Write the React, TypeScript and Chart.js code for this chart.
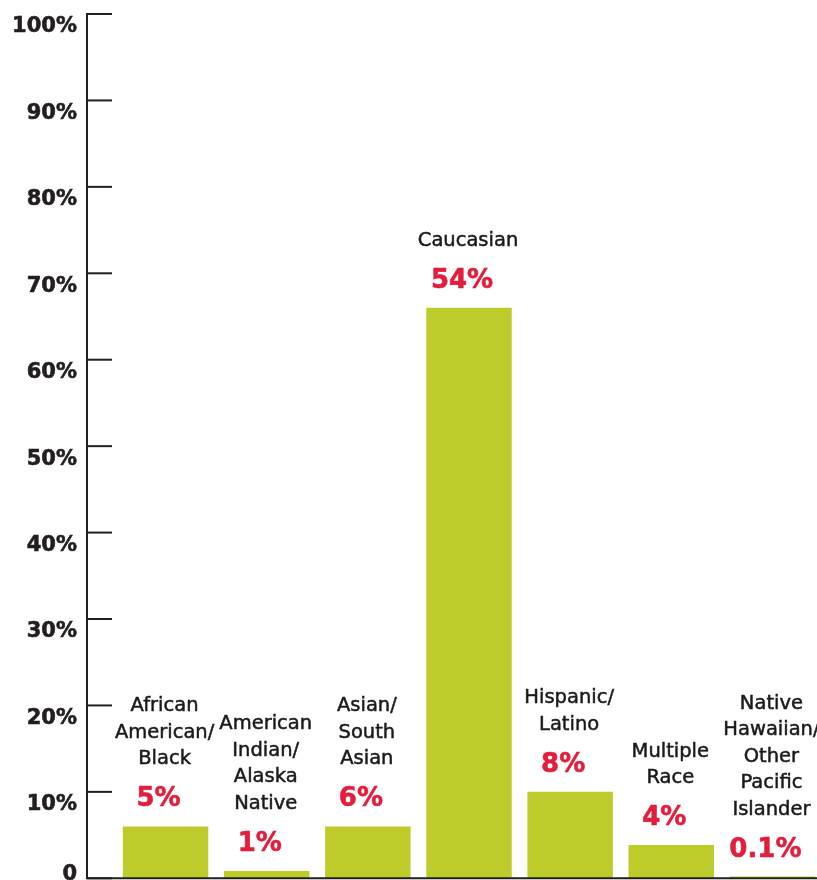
import { useEffect, useRef } from "react";
import { Chart, registerables } from "chart.js";

Chart.register(...registerables);

const categories: string[][] = [
  ["African", "American/", "Black"],
  ["American", "Indian/", "Alaska", "Native"],
  ["Asian/", "South", "Asian"],
  ["Caucasian"],
  ["Hispanic/", "Latino"],
  ["Multiple", "Race"],
  ["Native", "Hawaiian/", "Other", "Pacific", "Islander"],
];
const barValues = [6, 0.85, 6, 66, 10, 3.85, 0.2];
const valueLabels = ["5%", "1%", "6%", "54%", "8%", "4%", "0.1%"];
const yTickValues = [0, 10, 20, 30, 40, 50, 60, 70, 80, 90, 100];
const yTickLabels = ["0", "10%", "20%", "30%", "40%", "50%", "60%", "70%", "80%", "90%", "100%"];

const BAR_COLOR = "#BDCC2A";
const RED = "#E31D3C";
const AXIS = "#231F20";

const decorPlugin = {
  id: "decor",
  afterDatasetsDraw(chart: any) {
    const { ctx, chartArea, scales } = chart;
    const y = scales.y;
    const axisX = chartArea.left - 28;
    const y0 = y.getPixelForValue(0);
    const yTop = y.getPixelForValue(100);
    ctx.save();
    ctx.strokeStyle = AXIS;
    ctx.lineWidth = 2;
    ctx.beginPath();
    ctx.moveTo(axisX, yTop - 1);
    ctx.lineTo(axisX, y0);
    ctx.stroke();
    // tick marks
    yTickValues.forEach((v) => {
      const py = y.getPixelForValue(v);
      ctx.beginPath();
      ctx.moveTo(axisX, py);
      ctx.lineTo(axisX + 25, py);
      ctx.stroke();
    });
    // baseline
    ctx.beginPath();
    ctx.moveTo(axisX - 1, y0);
    ctx.lineTo(chart.width, y0);
    ctx.stroke();

    // y tick labels
    ctx.fillStyle = AXIS;
    ctx.strokeStyle = AXIS;
    ctx.lineWidth = 0.6;
    ctx.font = "bold 21px 'DejaVu Sans'";
    ctx.textAlign = "right";
    ctx.textBaseline = "middle";
    yTickValues.forEach((v, i) => {
      const py = Math.min(y.getPixelForValue(v) + 13, chart.height - 5);
      ctx.fillText(yTickLabels[i], axisX - 10, py);
      ctx.strokeText(yTickLabels[i], axisX - 10, py);
    });

    // bar labels
    const meta = chart.getDatasetMeta(0);
    meta.data.forEach((bar: any, i: number) => {
      const top = bar.y;
      ctx.textAlign = "center";
      ctx.textBaseline = "alphabetic";
      ctx.fillStyle = RED;
      ctx.strokeStyle = RED;
      ctx.lineWidth = 0.6;
      ctx.font = "bold 26px 'DejaVu Sans'";
      ctx.fillText(valueLabels[i], bar.x - 7, top - 20);
      ctx.strokeText(valueLabels[i], bar.x - 7, top - 20);
      ctx.fillStyle = "#1A1A1A";
      ctx.strokeStyle = "#1A1A1A";
      ctx.lineWidth = 0.5;
      ctx.font = "19.5px 'DejaVu Sans'";
      const lines = categories[i];
      const lastBase = top - 62;
      lines.forEach((line, j) => {
        const base = lastBase - (lines.length - 1 - j) * 26.5;
        ctx.fillText(line, bar.x - 1, base);
        ctx.strokeText(line, bar.x - 1, base);
      });
    });
    ctx.restore();
  },
};

export default function App() {
  const ref = useRef<HTMLCanvasElement>(null);
  useEffect(() => {
    document.body.style.margin = "0";
    if (!ref.current) return;
    const chart = new Chart(ref.current, {
      type: "bar",
      data: {
        labels: categories.map((c) => c.join(" ")),
        datasets: [
          {
            data: barValues,
            backgroundColor: BAR_COLOR,
            borderWidth: 0,
            barPercentage: 0.845,
            categoryPercentage: 1,
          },
        ],
      },
      options: {
        responsive: false,
        animation: false,
        layout: { padding: { top: 14, bottom: 1.7, left: 0, right: 0 } },
        plugins: {
          legend: { display: false },
          tooltip: { enabled: false },
          title: { display: false },
        },
        scales: {
          x: { display: false, offset: true },
          y: {
            min: 0,
            max: 100,
            ticks: { display: false, stepSize: 10 },
            grid: { display: false },
            border: { display: false },
            afterFit: (scale: any) => {
              scale.width = 115;
              scale.paddingTop = 0;
              scale.paddingBottom = 0;
            },
          },
        },
      },
      plugins: [decorPlugin],
    });
    return () => chart.destroy();
  }, []);
  return (
    <div style={{ width: 817, height: 880, overflow: "hidden", position: "relative" }}>
      <canvas ref={ref} width={823} height={880} style={{ display: "block" }} />
    </div>
  );
}
